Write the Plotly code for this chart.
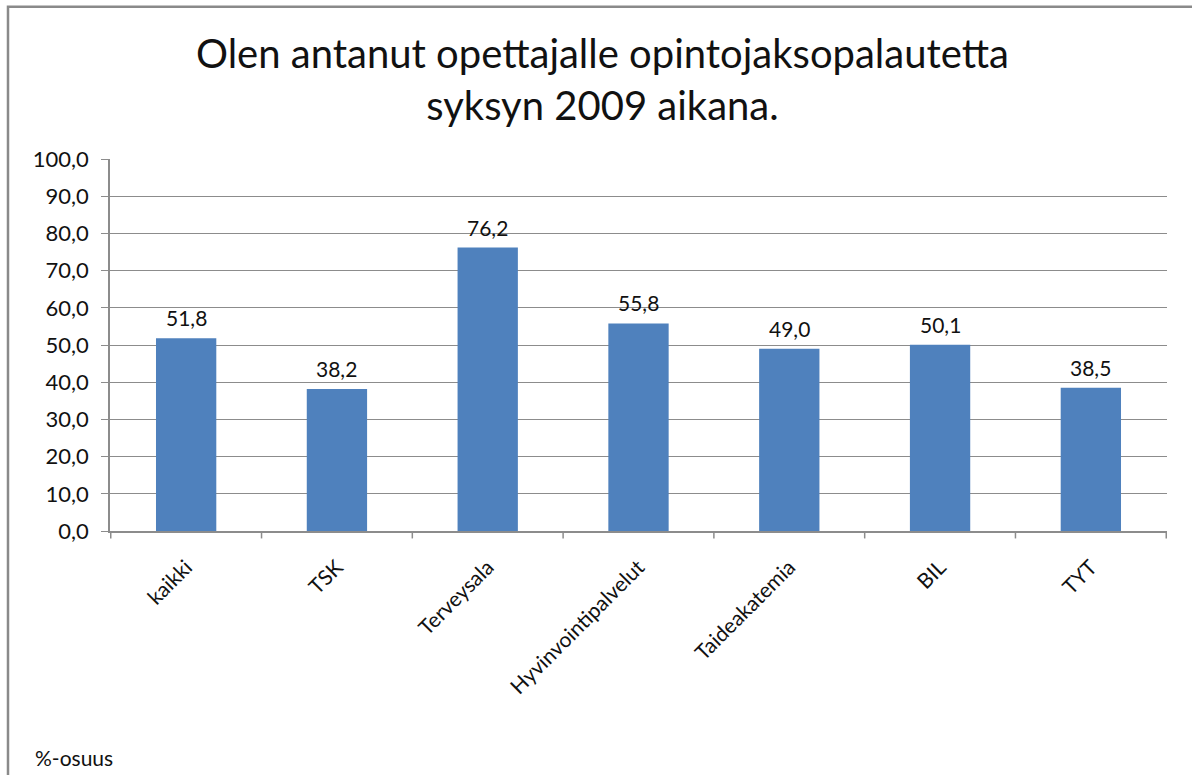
import plotly.graph_objects as go

categories = ["kaikki", "TSK", "Terveysala", "Hyvinvointipalvelut", "Taideakatemia", "BIL", "TYT"]
values = [51.8, 38.2, 76.2, 55.8, 49.0, 50.1, 38.5]
y_ticks = [0, 10, 20, 30, 40, 50, 60, 70, 80, 90, 100]
title_text = "Olen antanut opettajalle opintojaksopalautetta<br>syksyn 2009 aikana."

FONT = "Lato"
BAR = "#4F81BD"
GRID = "#8C8C8C"

fig = go.Figure()
fig.add_trace(go.Bar(x=categories, y=values, marker=dict(color=BAR, line=dict(width=0)),
                     hoverinfo="skip"))

for c, v in zip(categories, values):
    fig.add_annotation(x=c, y=v, text=f"{v:.1f}".replace(".", ","), showarrow=False,
                       yanchor="bottom", yshift=6, font=dict(family=FONT, size=21, color="#111"))

fig.add_annotation(xref="paper", yref="paper", x=-0.073, y=-0.61, xanchor="left", yanchor="middle",
                   text="%-osuus", showarrow=False, font=dict(family=FONT, size=21, color="#111"))

# title (two lines)
fig.add_annotation(xref="paper", yref="paper", x=0.466, y=1.215, xanchor="center", yanchor="middle",
                   text=title_text, showarrow=False, align="center",
                   font=dict(family=FONT, size=40, color="#111"))

# outer frame
fig.add_shape(type="rect", xref="paper", yref="paper", x0=-0.0965, x1=1.03, y0=-0.7, y1=1.409,
              line=dict(color="#8A8A8A", width=2.5), fillcolor="rgba(0,0,0,0)", layer="below")

fig.update_layout(
    width=1192, height=775,
    margin=dict(l=110, r=25, t=159, b=244),
    paper_bgcolor="white", plot_bgcolor="white",
    separators=", ",
    bargap=0.6,
    showlegend=False,
    xaxis=dict(tickangle=-45, tickfont=dict(family=FONT, size=21, color="#111"),
               showline=True, linecolor=GRID, linewidth=1.5, showgrid=False,
               ticks="", ticklabelstandoff=14, fixedrange=True),
    yaxis=dict(range=[0, 100], tickvals=y_ticks, tickformat=".1f",
               tickfont=dict(family=FONT, size=22, color="#111"),
               showline=True, linecolor=GRID, linewidth=1.5,
               showgrid=True, gridcolor=GRID, gridwidth=1.2,
               ticks="outside", ticklen=7, tickcolor=GRID, ticklabelstandoff=8,
               zeroline=False, fixedrange=True),
)

# category boundary tick marks below the x axis
for i in range(len(categories) + 1):
    fig.add_shape(type="line", xref="x", yref="paper", x0=i - 0.5, x1=i - 0.5, y0=0, y1=-0.02,
                  line=dict(color=GRID, width=1.5))

fig.write_html("out.html", config={"displayModeBar": False},
               post_script="document.body.style.margin='0';")
